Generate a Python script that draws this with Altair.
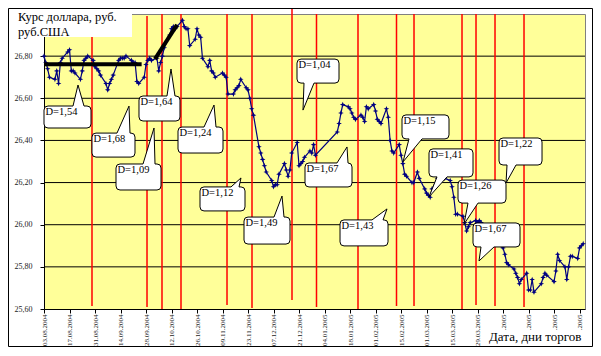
import altair as alt
import pandas as pd

START = pd.Timestamp("2004-08-03")

# ---- USD/RUB rate by trading day ----
aug_2004_days = [3, 4, 5, 6, 9, 10, 11, 12, 13, 16, 17, 18, 19, 20, 23, 24, 25, 26, 27, 30, 31]
aug_2004_rate = [26.80, 26.77, 26.74, 26.70, 26.69, 26.73, 26.67, 26.77, 26.79, 26.82, 26.83,
                 26.73, 26.73, 26.72, 26.69, 26.73, 26.78, 26.79, 26.80, 26.78, 26.75]
sep_2004_days = [1, 2, 3, 6, 7, 8, 9, 10, 13, 14, 15, 16, 17, 20, 21, 22, 23, 24, 27, 28, 29, 30]
sep_2004_rate = [26.74, 26.73, 26.71, 26.67, 26.64, 26.67, 26.69, 26.71, 26.78, 26.79, 26.79,
                 26.79, 26.80, 26.78, 26.77, 26.77, 26.68, 26.67, 26.70, 26.76, 26.78, 26.79]
oct_2004_days = [1, 4, 5, 6, 7, 8, 11, 12, 13, 14, 15, 18, 19, 20, 21, 22, 25, 26, 27, 28, 29]
oct_2004_rate = [26.78, 26.79, 26.73, 26.77, 26.80, 26.84, 26.90, 26.93, 26.94, 26.93, 26.94,
                 26.97, 26.94, 26.93, 26.93, 26.85, 26.88, 26.93, 26.90, 26.89, 26.79]
nov_2004_days = [1, 2, 3, 4, 5, 9, 10, 11, 12, 15, 16, 17, 18, 19, 22, 23, 24, 25, 26, 29, 30]
nov_2004_rate = [26.75, 26.78, 26.73, 26.72, 26.70, 26.72, 26.71, 26.70, 26.62, 26.62, 26.64,
                 26.65, 26.66, 26.69, 26.65, 26.64, 26.60, 26.55, 26.52, 26.37, 26.34]
dec_2004_days = [1, 2, 3, 6, 7, 8, 9, 10, 13, 14, 15, 16, 17, 20, 21, 22, 23, 24, 27, 28, 29, 30]
dec_2004_rate = [26.31, 26.28, 26.25, 26.21, 26.18, 26.19, 26.19, 26.24, 26.29, 26.26, 26.23,
                 26.26, 26.34, 26.39, 26.28, 26.29, 26.30, 26.32, 26.35, 26.34, 26.38, 26.33]
jan_2005_days = [11, 12, 13, 14, 17, 18, 19, 20, 21, 24, 25, 26, 27, 28, 31]
jan_2005_rate = [26.44, 26.48, 26.53, 26.57, 26.56, 26.55, 26.53, 26.51, 26.50, 26.52, 26.51,
                 26.49, 26.56, 26.55, 26.57]
feb_2005_days = [1, 2, 3, 4, 7, 8, 9, 10, 11, 14, 15, 16, 17, 18, 21, 22, 24, 25, 28]
feb_2005_rate = [26.54, 26.50, 26.49, 26.48, 26.55, 26.51, 26.40, 26.35, 26.34, 26.38, 26.33,
                 26.29, 26.24, 26.23, 26.20, 26.20, 26.25, 26.22, 26.17]
mar_2005_days = [1, 2, 3, 4, 7, 9, 10, 11, 14, 15, 16, 17, 18, 21, 22, 23, 24, 25, 28, 29, 30, 31]
mar_2005_rate = [26.15, 26.14, 26.13, 26.17, 26.22, 26.23, 26.22, 26.22, 26.21, 26.18, 26.13,
                 26.05, 26.05, 26.04, 26.01, 25.97, 25.99, 26.01, 26.02, 26.01, 26.02, 26.01]
apr_2005_days = [1, 4, 5, 6, 7, 8, 11, 12, 13, 14, 15, 18, 19, 20, 21, 22, 25, 26, 27, 28, 29]
apr_2005_rate = [25.99, 25.97, 25.95, 25.94, 25.93, 25.92, 25.90, 25.89, 25.86, 25.82, 25.81,
                 25.79, 25.77, 25.75, 25.72, 25.74, 25.77, 25.69, 25.69, 25.74, 25.68]
may_2005_days = [3, 4, 5, 6, 10, 11, 12, 13, 16, 17, 18, 19, 20, 23, 24, 25, 26]
may_2005_rate = [25.72, 25.75, 25.77, 25.76, 25.73, 25.78, 25.86, 25.83, 25.80, 25.74, 25.80,
                 25.85, 25.85, 25.84, 25.89, 25.90, 25.91]

months = [
    (2004, 8, aug_2004_days, aug_2004_rate), (2004, 9, sep_2004_days, sep_2004_rate),
    (2004, 10, oct_2004_days, oct_2004_rate), (2004, 11, nov_2004_days, nov_2004_rate),
    (2004, 12, dec_2004_days, dec_2004_rate), (2005, 1, jan_2005_days, jan_2005_rate),
    (2005, 2, feb_2005_days, feb_2005_rate), (2005, 3, mar_2005_days, mar_2005_rate),
    (2005, 4, apr_2005_days, apr_2005_rate), (2005, 5, may_2005_days, may_2005_rate),
]

# ---- axis ticks ----
tick_labels = ["03.08.2004", "17.08.2004", "31.08.2004", "14.09.2004", "28.09.2004",
               "12.10.2004", "26.10.2004", "09.11.2004", "23.11.2004", "07.12.2004",
               "21.12.2004", "04.01.2005", "18.01.2005", "01.02.2005", "15.02.2005",
               "01.03.2005", "15.03.2005", "29.03.2005", "12.04.2005", "26.04.2005",
               "10.05.2005", "24.05.2005"]
y_ticks = [25.6, 25.8, 26.0, 26.2, 26.4, 26.6, 26.8]
grid_values = [25.8, 26.0, 26.2, 26.4, 26.6, 26.8]

# ---- red separators (day offset from 03.08.2004, top, bottom) ----
red_day = [26.35, 56.55, 64.78, 75.21, 100.47, 114.19, 136.15, 149.6, 172.38, 193.52,
           203.13, 229.48, 237.17, 247.6, 263.52]
red_top = [27.0, 26.99, 27.0, 27.0, 27.0, 27.0, 27.033, 27.0, 27.0, 27.0, 27.0, 27.0, 27.0, 27.0, 27.0]
red_bottom = [25.614, 25.609, 25.6, 25.6, 25.619, 25.605, 25.643, 25.609, 25.6, 25.614,
              25.614, 25.6, 25.619, 25.614, 25.609]

# ---- black trend segments ----
trend_seg = ["a", "a", "b", "b"]
trend_day = [0.0, 53.6, 60.9, 73.0]
trend_rate = [26.762, 26.762, 26.786, 26.948]

# ---- callouts: text and the point each one points at ----
bubble_text = ["D=1,54", "D=1,68", "D=1,09", "D=1,64", "D=1,24", "D=1,04", "D=1,12", "D=1,49",
               "D=1,67", "D=1,43", "D=1,15", "D=1,41", "D=1,22", "D=1,26", "D=1,67"]
bubble_day = [18.67, 46.66, 60.39, 69.72, 93.33, 142.19, 108.15, 130.66, 166.35, 188.31,
              197.09, 211.36, 253.64, 230.58, 238.81]
bubble_rate = [26.663, 26.563, 26.459, 26.739, 26.568, 26.544, 26.222, 26.136, 26.369, 26.075,
               26.298, 26.132, 26.198, 26.003, 25.828]
# callout body geometry in pixels relative to pointer tip (style)
bubble_geom = [
    (-34, 21, 13, 43, "top", -5, 6), (-37, 27, 6, 51, "top", -12, 1),
    (-38, 36, 7, 62, "top", -11, 1), (-32, 27, 9, 52, "top", -4, 4),
    (-36, 22, 9, 48, "top", -10, 2), (-6, -51, 36, -27, "bottom", 1, 11),
    (-41, 9, 4, 33, "top", -10, -2), (-38, 21, 8, 48, "top", -8, 2),
    (-42, 16, 5, 40, "top", -10, 1), (-47, 11, 1, 37, "top", -15, -4),
    (-1, -47, 46, -23, "bottom", 6, 19), (0, -48, 44, -20, "bottom", 8, 18),
    (-7, -45, 36, -18, "bottom", 1, 10), (-6, -44, 42, -21, "bottom", 4, 14),
    (-6, -38, 41, -14, "bottom", 2, 15),
]

W, H = 541, 295
X_MAX = 297
Y_MIN, Y_MAX = 25.6, 27.0
PXD = W / X_MAX
PXV = H / (Y_MAX - Y_MIN)
SERIF = "Liberation Serif"

rows = []
for yy, mm, days, vals in months:
    for d, v in zip(days, vals):
        rows.append({"day": (pd.Timestamp(year=yy, month=mm, day=d) - START).days, "rate": v})
df = pd.DataFrame(rows)

tick_days = [(pd.to_datetime(s, format="%d.%m.%Y") - START).days for s in tick_labels]
label_js = "[" + ",".join("'" + s + "'" for s in tick_labels) + "]"


def bubble_path(l, t, r, b, side, b1, b2, k=4):
    if side == "top":
        return (f"M{l+k},{t} L{b1},{t} L0,0 L{b2},{t} L{r-k},{t} Q{r},{t} {r},{t+k} "
                f"L{r},{b-k} Q{r},{b} {r-k},{b} L{l+k},{b} Q{l},{b} {l},{b-k} "
                f"L{l},{t+k} Q{l},{t} {l+k},{t} Z")
    return (f"M{l+k},{t} L{r-k},{t} Q{r},{t} {r},{t+k} L{r},{b-k} Q{r},{b} {r-k},{b} "
            f"L{b2},{b} L0,0 L{b1},{b} L{l+k},{b} Q{l},{b} {l},{b-k} "
            f"L{l},{t+k} Q{l},{t} {l+k},{t} Z")


bub = pd.DataFrame({
    "label": bubble_text,
    "day": bubble_day,
    "rate": bubble_rate,
    "path": [bubble_path(*g) for g in bubble_geom],
    "tday": [d + (g[0] + 1.5) / PXD for d, g in zip(bubble_day, bubble_geom)],
    "trate": [r - (g[1] + 1) / PXV for r, g in zip(bubble_rate, bubble_geom)],
})

xs = alt.Scale(domain=[0, X_MAX], nice=False, zero=False)
ys = alt.Scale(domain=[Y_MIN, Y_MAX], nice=False, zero=False)

x_axis = alt.Axis(values=tick_days, labelExpr=f"{label_js}[round(datum.value/14)]",
                  labelAngle=-90, labelFont=SERIF, labelFontSize=7, labelColor="#222",
                  labelPadding=1, labelOverlap=False, labelFlush=False, labelBound=False,
                  tickSize=4, tickColor="black", domainColor="black", grid=False, title=None)
y_axis = alt.Axis(values=y_ticks, labelExpr="replace(format(datum.value, '.2f'), '.', ',')",
                  labelFont=SERIF, labelFontSize=8, labelColor="#222", labelPadding=8,
                  tickSize=4, tickColor="black", domainColor="black", grid=False, title=None)


def X(field):
    return alt.X(field, scale=xs, axis=x_axis)


def Y(field):
    return alt.Y(field, scale=ys, axis=y_axis)


grid = alt.Chart(pd.DataFrame({"v": grid_values})).mark_rule(color="black", strokeWidth=1).encode(
    y=Y("v:Q"))

reds = alt.Chart(pd.DataFrame({"day": red_day, "top": red_top, "bottom": red_bottom})).mark_rule(
    color="#FF0000", strokeWidth=1.5).encode(x=X("day:Q"), y=Y("top:Q"), y2="bottom:Q")

star = "M0,-1 L0.28,-0.28 L1,0 L0.28,0.28 L0,1 L-0.28,0.28 L-1,0 L-0.28,-0.28 Z"
series = alt.Chart(df).mark_line(
    color="#000080", strokeWidth=1.2,
    point=alt.OverlayMarkDef(shape=star, size=32, filled=True, color="#000080", opacity=1)
).encode(x=X("day:Q"), y=Y("rate:Q"))

trend = alt.Chart(pd.DataFrame({"seg": trend_seg, "day": trend_day, "rate": trend_rate})).mark_line(
    color="black", strokeWidth=4).encode(x=X("day:Q"), y=Y("rate:Q"), detail="seg:N")

bubbles = alt.Chart(bub).mark_point(
    filled=True, fill="white", stroke="black", strokeWidth=1, size=4, opacity=1,
    fillOpacity=1, strokeOpacity=1).encode(
    x=X("day:Q"), y=Y("rate:Q"), shape=alt.Shape("path:N", scale=None, legend=None))

bubble_labels = alt.Chart(bub).mark_text(
    align="left", baseline="top", font=SERIF, fontSize=10.5, color="black").encode(
    x=X("tday:Q"), y=Y("trate:Q"), text="label:N")

one = pd.DataFrame({"k": [0]})
title_box = alt.Chart(one).mark_rect(fill="white", stroke=None).encode(
    x=alt.value(-36), x2=alt.value(88), y=alt.value(-6), y2=alt.value(23))
title_l1 = alt.Chart(one).mark_text(align="left", baseline="alphabetic", font=SERIF, fontSize=12.5,
                                    color="black", text="Курс доллара, руб.").encode(
    x=alt.value(-26), y=alt.value(7))
title_l2 = alt.Chart(one).mark_text(align="left", baseline="alphabetic", font=SERIF, fontSize=12.5,
                                    color="black", text="руб.США").encode(
    x=alt.value(-26), y=alt.value(22))
xt_box = alt.Chart(one).mark_rect(fill="white", stroke=None).encode(
    x=alt.value(442), x2=alt.value(548), y=alt.value(316), y2=alt.value(336))
xt_text = alt.Chart(one).mark_text(align="left", baseline="alphabetic", font=SERIF, fontSize=13,
                                   color="black", text="Дата, дни торгов").encode(
    x=alt.value(445), y=alt.value(327))
frame = alt.Chart(one).mark_rect(fill="white", fillOpacity=0, stroke="black", strokeWidth=1).encode(
    x=alt.value(-35.5), x2=alt.value(548.5), y=alt.value(-5.5), y2=alt.value(332.5))

chart = alt.layer(
    grid, reds, series, trend, bubbles, bubble_labels,
    title_box, title_l1, title_l2, xt_box, xt_text, frame
).properties(
    width=W, height=H,
    autosize=alt.AutoSizeParams(type="none"),
    padding={"left": 36, "top": 6, "right": 8, "bottom": 38},
    background="white",
).configure_view(fill="#FFFF99", stroke="#808080", strokeWidth=1)

chart.save("out.html", embed_options={"renderer": "svg", "actions": False})
